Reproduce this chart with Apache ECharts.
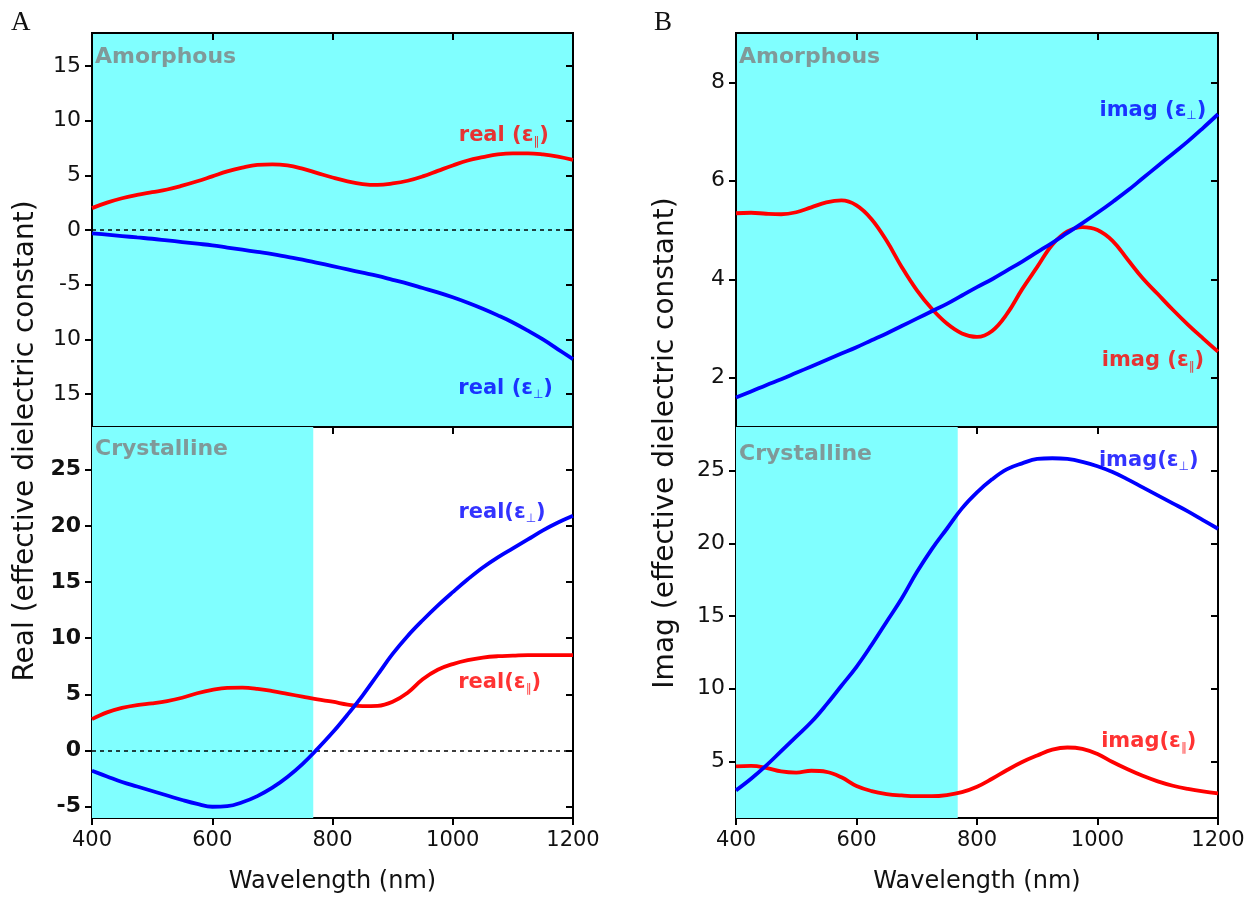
<!DOCTYPE html>
<html>
<head>
<meta charset="utf-8">
<script src="https://cdn.jsdelivr.net/npm/echarts@6/dist/echarts.min.js"></script>
<style>
  html, body { margin: 0; padding: 0; background: #ffffff; }
  #chart { width: 1257px; height: 897px; }
</style>
</head>
<body>
<div id="chart"></div>
<script>
// ---- Wavelength grid (nm), 25 nm steps, shared by every curve ----
const wavelengths = [400, 425, 450, 475, 500, 525, 550, 575, 600, 625, 650, 675, 700, 725, 750, 775, 800,
                     825, 850, 875, 900, 925, 950, 975, 1000, 1025, 1050, 1075, 1100, 1125, 1150, 1175, 1200];
const wlTicks = [400, 600, 800, 1000, 1200];

// ---- A: real part, amorphous ----
const amRealPar = [2.0, 2.5, 2.9, 3.2, 3.45, 3.7, 4.05, 4.45, 4.9, 5.35, 5.7, 5.95, 6.0, 5.9, 5.6, 5.2, 4.8,
                   4.45, 4.2, 4.12, 4.25, 4.5, 4.9, 5.4, 5.9, 6.35, 6.65, 6.9, 7.0, 7.0, 6.9, 6.7, 6.4];
const amRealPer = [-0.3, -0.42, -0.55, -0.68, -0.8, -0.95, -1.1, -1.25, -1.4, -1.6, -1.8, -2.0, -2.2, -2.45, -2.7, -3.0, -3.3,
                   -3.6, -3.9, -4.2, -4.55, -4.9, -5.3, -5.7, -6.15, -6.65, -7.2, -7.8, -8.45, -9.2, -10.0, -10.9, -11.8];

// ---- A: real part, crystalline ----
const crRealPar = [2.8, 3.4, 3.8, 4.05, 4.2, 4.4, 4.7, 5.1, 5.4, 5.58, 5.6, 5.5, 5.3, 5.05, 4.8, 4.55, 4.35,
                   4.1, 3.95, 3.98, 4.35, 5.15, 6.35, 7.2, 7.7, 8.05, 8.28, 8.4, 8.45, 8.5, 8.5, 8.5, 8.5];
const crRealPer = [-1.8, -2.3, -2.8, -3.2, -3.6, -4.0, -4.4, -4.75, -5.0, -4.95, -4.6, -4.05, -3.3, -2.35, -1.2, 0.15, 1.6,
                   3.2, 4.9, 6.75, 8.6, 10.2, 11.6, 12.9, 14.1, 15.25, 16.3, 17.2, 18.0, 18.8, 19.6, 20.3, 20.9];

// ---- B: imaginary part, amorphous ----
const amImagPar = [5.34, 5.35, 5.33, 5.32, 5.36, 5.46, 5.56, 5.6, 5.5, 5.22, 4.78, 4.25, 3.78, 3.4, 3.1, 2.9, 2.83,
                   2.95, 3.3, 3.8, 4.25, 4.7, 4.97, 5.06, 5.0, 4.78, 4.4, 4.02, 3.7, 3.38, 3.08, 2.8, 2.53];
const amImagPer = [1.6, 1.72, 1.85, 1.97, 2.1, 2.23, 2.36, 2.49, 2.62, 2.76, 2.9, 3.05, 3.2, 3.35, 3.5, 3.67, 3.84,
                   4.0, 4.18, 4.36, 4.55, 4.74, 4.94, 5.14, 5.35, 5.57, 5.8, 6.05, 6.3, 6.55, 6.8, 7.07, 7.35];

// ---- B: imaginary part, crystalline ----
const crImagPar = [4.65, 4.68, 4.55, 4.3, 4.22, 4.35, 4.28, 3.9, 3.3, 2.95, 2.75, 2.65, 2.6, 2.6, 2.68, 2.88, 3.25,
                   3.8, 4.4, 4.95, 5.4, 5.8, 5.95, 5.85, 5.5, 4.95, 4.45, 4.0, 3.62, 3.32, 3.1, 2.93, 2.8];
const crImagPer = [3.0, 3.8, 4.7, 5.7, 6.7, 7.7, 8.9, 10.2, 11.5, 13.0, 14.6, 16.2, 18.0, 19.6, 21.0, 22.4, 23.5,
                   24.4, 25.1, 25.5, 25.8, 25.85, 25.8, 25.6, 25.3, 24.9, 24.4, 23.85, 23.3, 22.75, 22.2, 21.6, 21.0];

// ---- y-axis ticks and labels ----
const amRealTicks  = [-15, -10, -5, 0, 5, 10, 15];
const amRealLabels = ['15', '10', '-5', '0', '5', '10', '15'];
const crRealTicks  = [-5, 0, 5, 10, 15, 20, 25];
const crRealLabels = ['-5', '0', '5', '10', '15', '20', '25'];
const amImagTicks  = [2, 4, 6, 8];
const amImagLabels = ['2', '4', '6', '8'];
const crImagTicks  = [5, 10, 15, 20, 25];
const crImagLabels = ['5', '10', '15', '20', '25'];

// shaded wavelength band in the crystalline panels
const shadeBand = [400, 768];

const RED = '#ff0000';
const BLUE = '#0000ff';
const CYAN = '#80ffff';
const FONT = 'DejaVu Sans';

const zip = (xs, ys) => xs.map((x, i) => [x, ys[i]]);

const grids = [
  { left: 92,  width: 481, top: 33,  height: 394 },
  { left: 92,  width: 481, top: 427, height: 391 },
  { left: 736, width: 482, top: 33,  height: 394 },
  { left: 736, width: 482, top: 427, height: 391 }
].map((g, i) => Object.assign({
  show: true,
  borderColor: '#000',
  borderWidth: 2,
  backgroundColor: (i === 0 || i === 2) ? CYAN : '#ffffff',
  containLabel: false
}, g));

const yRanges = [
  { min: -18, max: 18,   ticks: amRealTicks, labels: amRealLabels, bold: false },
  { min: -6,  max: 28.8, ticks: crRealTicks, labels: crRealLabels, bold: true },
  { min: 1,   max: 9,    ticks: amImagTicks, labels: amImagLabels, bold: false },
  { min: 1.1, max: 28,   ticks: crImagTicks, labels: crImagLabels, bold: false }
];

const xAxes = [];
const yAxes = [];
// main axes: outward half of each tick, plus labels
for (let g = 0; g < 4; g++) {
  const isBottom = (g === 1 || g === 3);
  xAxes.push({
    type: 'value', gridIndex: g, min: 400, max: 1200, interval: 200,
    axisLine: { show: true, onZero: false, lineStyle: { color: '#000', width: 2 } },
    axisTick: { show: true, inside: false, length: 7, lineStyle: { color: '#000', width: 2 } },
    axisLabel: { show: isBottom, margin: 12, color: '#111', fontFamily: FONT, fontSize: 21,
                 formatter: v => String(v) },
    splitLine: { show: false },
    name: isBottom ? 'Wavelength (nm)' : '',
    nameLocation: 'middle', nameGap: 52,
    nameTextStyle: { color: '#111', fontFamily: FONT, fontSize: 24 }
  });
  const r = yRanges[g];
  yAxes.push({
    type: 'value', gridIndex: g, min: r.min, max: r.max,
    axisLine: { show: true, onZero: false, lineStyle: { color: '#000', width: 2 } },
    axisTick: { show: true, inside: false, length: 7, customValues: r.ticks, lineStyle: { color: '#000', width: 2 } },
    axisLabel: {
      show: true, margin: 11, color: '#111', fontFamily: FONT, fontSize: 22,
      fontWeight: r.bold ? 'bold' : 'normal',
      customValues: r.ticks,
      formatter: v => { const k = r.ticks.indexOf(v); return k >= 0 ? r.labels[k] : ''; }
    },
    splitLine: { show: false }
  });
}
// companion axes: inward half of each tick
for (let g = 0; g < 4; g++) {
  xAxes.push({
    type: 'value', gridIndex: g, min: 400, max: 1200, interval: 200,
    axisLine: { show: false, onZero: false },
    axisTick: { show: true, inside: true, length: 7, lineStyle: { color: '#000', width: 2 } },
    axisLabel: { show: false }, splitLine: { show: false }
  });
  const r = yRanges[g];
  yAxes.push({
    type: 'value', gridIndex: g, min: r.min, max: r.max,
    axisLine: { show: false, onZero: false },
    axisTick: { show: true, inside: true, length: 7, customValues: r.ticks, lineStyle: { color: '#000', width: 2 } },
    axisLabel: { show: false }, splitLine: { show: false }
  });
}

function curve(g, val, color, extra) {
  return Object.assign({
    type: 'line', xAxisIndex: g, yAxisIndex: g,
    data: zip(wavelengths, val), smooth: 0.4, symbol: 'none',
    lineStyle: { color: color, width: 3.8 }, z: 5, silent: true
  }, extra || {});
}

const zeroLine = {
  silent: true, symbol: ['none', 'none'],
  lineStyle: { type: [4, 4], color: '#000', width: 1.5 },
  label: { show: false },
  data: [{ yAxis: 0 }]
};

const bandArea = {
  silent: true,
  itemStyle: { color: CYAN, opacity: 1 },
  data: [[{ xAxis: shadeBand[0] }, { xAxis: shadeBand[1] }]]
};

const richStyles = (color) => ({
  m: { color: color, fontFamily: FONT, fontSize: 21, fontWeight: 'bold', lineHeight: 24 },
  s: { color: color, fontFamily: FONT, fontSize: 12, fontWeight: 'normal', lineHeight: 12, verticalAlign: 'bottom' }
});

function curveLabel(g, wl, v, text, color) {
  return {
    type: 'scatter', xAxisIndex: g, yAxisIndex: g, silent: true,
    symbolSize: 0, data: [[wl, v]], z: 6,
    label: { show: true, position: 'inside', formatter: text, rich: richStyles(color) }
  };
}

function phaseLabel(g, wl, v, text) {
  return {
    type: 'scatter', xAxisIndex: g, yAxisIndex: g, silent: true,
    symbolSize: 0, data: [[wl, v]], z: 6,
    label: {
      show: true, position: 'right', distance: 0, formatter: text,
      color: '#808080', fontFamily: FONT, fontSize: 22, fontWeight: 'bold'
    }
  };
}

const series = [
  // A, amorphous
  curve(0, amRealPar, RED, { markLine: zeroLine }),
  curve(0, amRealPer, BLUE),
  // A, crystalline
  curve(1, crRealPar, RED, { markLine: zeroLine, markArea: bandArea }),
  curve(1, crRealPer, BLUE),
  // B, amorphous
  curve(2, amImagPar, RED),
  curve(2, amImagPer, BLUE),
  // B, crystalline
  curve(3, crImagPar, RED, { markArea: bandArea }),
  curve(3, crImagPer, BLUE),

  curveLabel(0, 1085, 8.6,   '{m|real (ε}{s|∥}{m|)}', RED),
  curveLabel(0, 1088, -14.5, '{m|real (ε}{s|⊥}{m|)}', BLUE),
  curveLabel(1, 1082, 21.2,  '{m|real(ε}{s|⊥}{m|)}', BLUE),
  curveLabel(1, 1078, 6.05,  '{m|real(ε}{s|∥}{m|)}', RED),
  curveLabel(2, 1092, 7.43,  '{m|imag (ε}{s|⊥}{m|)}', BLUE),
  curveLabel(2, 1092, 2.35,  '{m|imag (ε}{s|∥}{m|)}', RED),
  curveLabel(3, 1085, 25.7,  '{m|imag(ε}{s|⊥}{m|)}', BLUE),
  curveLabel(3, 1085, 6.35,  '{m|imag(ε}{s|∥}{m|)}', RED),

  phaseLabel(0, 405, 15.8, 'Amorphous'),
  phaseLabel(1, 405, 26.8, 'Crystalline'),
  phaseLabel(2, 405, 8.5,  'Amorphous'),
  phaseLabel(3, 405, 26.1, 'Crystalline')
];

const chart = echarts.init(document.getElementById('chart'), null, { renderer: 'canvas' });
chart.setOption({
  animation: false,
  backgroundColor: '#ffffff',
  grid: grids,
  xAxis: xAxes,
  yAxis: yAxes,
  series: series,
  graphic: [
    { type: 'text', left: 11, top: 9, style: { text: 'A', font: '27px "Liberation Serif"', fill: '#111' } },
    { type: 'text', left: 654, top: 9, style: { text: 'B', font: '27px "Liberation Serif"', fill: '#111' } },
    { type: 'text', x: 26, y: 441, rotation: Math.PI / 2,
      style: { text: 'Real (effective dielectric constant)', font: '28px "DejaVu Sans"', fill: '#111', align: 'center', verticalAlign: 'middle' } },
    { type: 'text', x: 666, y: 443, rotation: Math.PI / 2,
      style: { text: 'Imag (effective dielectric constant)', font: '28px "DejaVu Sans"', fill: '#111', align: 'center', verticalAlign: 'middle' } }
  ]
});
</script>
</body>
</html>
